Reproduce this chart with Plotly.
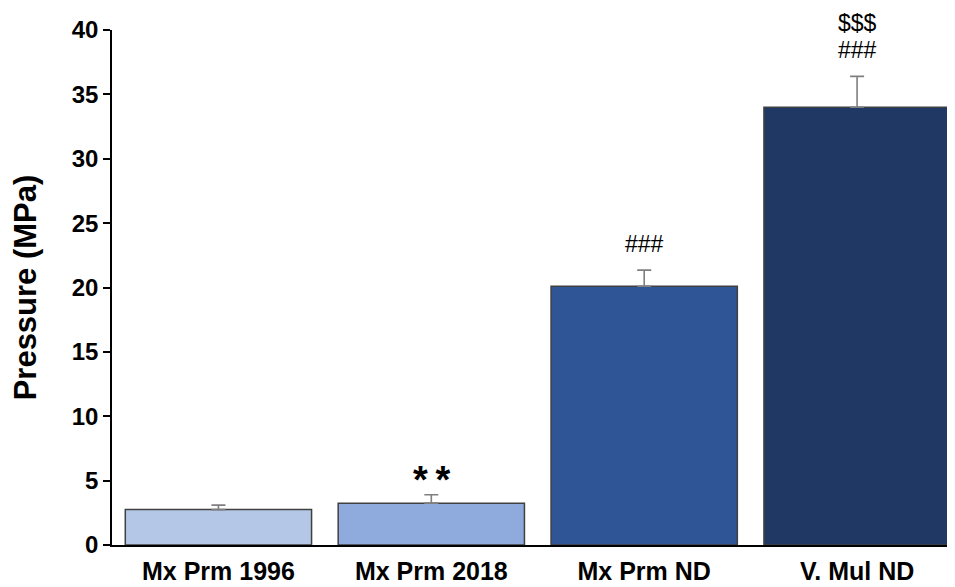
import plotly.graph_objects as go

categories = ["Mx Prm 1996", "Mx Prm 2018", "Mx Prm ND", "V. Mul ND"]
values = [2.75, 3.25, 20.1, 34.0]
errors = [0.35, 0.65, 1.25, 2.4]
# significance markers: list of (text, style) stacked from bottom to top
markers = [[], [("*\u2009*", "star")], [("###", "hash")], [("###", "hash"), ("$$$", "hash")]]
colors = ["#B4C7E7", "#8FAADC", "#2F5597", "#203864"]
y_ticks = [0, 5, 10, 15, 20, 25, 30, 35, 40]

fig = go.Figure()
fig.add_trace(go.Bar(
    x=categories, y=values,
    marker=dict(color=colors, line=dict(color="#404040", width=1.5)),
    width=0.875,
    error_y=dict(type="data", array=errors, arrayminus=[0] * len(errors),
                 symmetric=False, color="#7F7F7F", thickness=1.6, width=7),
))

font_family = "Liberation Sans, Arial, sans-serif"
for c, v, e, mk in zip(categories, values, errors, markers):
    for i, (t, style) in enumerate(mk):
        star = style == "star"
        fig.add_annotation(
            x=c, y=v + e, xref="x", yref="y", text=t, showarrow=False,
            yanchor="bottom", yshift=(-8 if star else 11 + 27 * i),
            font=dict(family=font_family, size=(38 if star else 23),
                      weight=("bold" if star else "normal"), color="#000000"),
        )

# page body adds an 8px offset, so the figure is sized to fit the 955x587 window
fig.update_layout(
    width=947, height=579,
    margin=dict(l=104, r=0, t=22, b=42),
    paper_bgcolor="white", plot_bgcolor="white",
    showlegend=False,
    font=dict(family=font_family, color="#000000"),
)
fig.update_xaxes(
    range=[-0.5, 3.46], showline=True, linecolor="#000000", linewidth=1.5,
    ticks="", showgrid=False, automargin=False, ticklabelstandoff=3,
    tickfont=dict(family=font_family, size=25, weight="bold", color="#000000"),
)
fig.update_yaxes(
    range=[0, 40], tickvals=y_ticks, showline=True, linecolor="#000000",
    linewidth=1.5, ticks="outside", ticklen=7, tickwidth=1.5, tickcolor="#000000",
    showgrid=False, zeroline=False, automargin=False,
    tickfont=dict(family=font_family, size=24, weight="bold", color="#000000"),
    title=dict(text="Pressure (MPa)", standoff=26,
               font=dict(family=font_family, size=31, weight="bold", color="#000000")),
)

fig.write_html("out.html")
